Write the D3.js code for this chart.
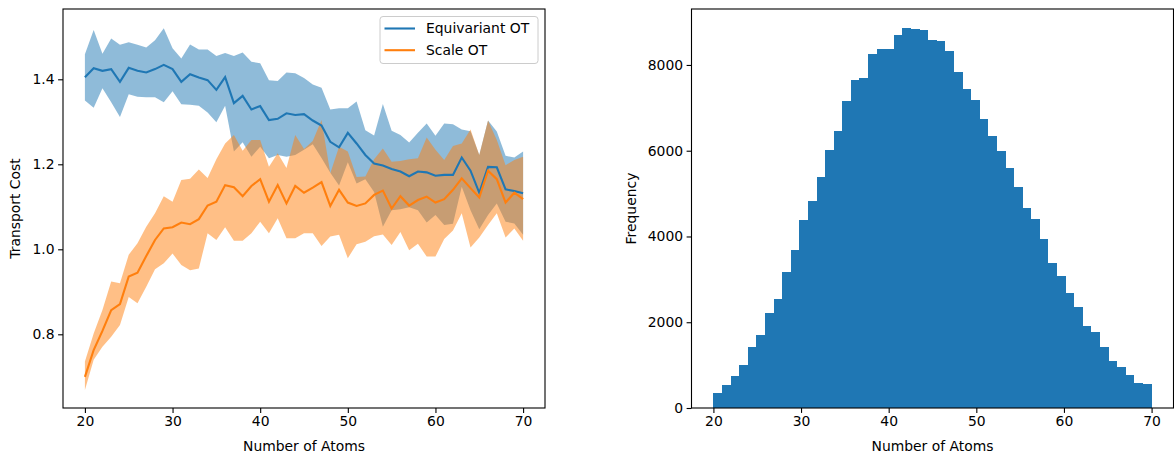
<!DOCTYPE html>
<html>
<head>
<meta charset="utf-8">
<script src="https://cdn.jsdelivr.net/npm/d3@7"></script>
<style>
  body { margin: 0; background: #fff; }
  svg text { font-family: "DejaVu Sans", sans-serif; fill: #000; }
</style>
</head>
<body>
<div id="chart"></div>
<script>
// nombre d'atomes (20 à 70)
const atoms = d3.range(20, 71);

// coût de transport, Equivariant OT
const equivMean = [1.405,1.426,1.420,1.424,1.394,1.427,1.420,1.416,1.424,1.434,1.424,1.394,1.412,1.404,1.398,1.375,1.405,1.344,1.361,1.329,1.337,1.304,1.307,1.320,1.316,1.318,1.303,1.291,1.253,1.240,1.274,1.249,1.222,1.202,1.197,1.189,1.183,1.172,1.183,1.181,1.173,1.175,1.175,1.216,1.185,1.133,1.194,1.193,1.141,1.137,1.132];
const equivUpper = [1.459,1.516,1.460,1.496,1.481,1.487,1.481,1.475,1.492,1.520,1.473,1.449,1.482,1.470,1.470,1.455,1.462,1.455,1.463,1.441,1.438,1.398,1.396,1.416,1.414,1.403,1.388,1.380,1.329,1.332,1.332,1.348,1.280,1.268,1.342,1.279,1.269,1.251,1.274,1.296,1.267,1.296,1.294,1.282,1.278,1.222,1.303,1.277,1.220,1.216,1.230];
const equivLower = [1.350,1.333,1.379,1.346,1.311,1.365,1.359,1.358,1.358,1.346,1.372,1.341,1.340,1.338,1.322,1.299,1.338,1.230,1.252,1.218,1.241,1.214,1.222,1.218,1.222,1.234,1.247,1.215,1.180,1.150,1.205,1.155,1.165,1.135,1.053,1.092,1.094,1.099,1.092,1.063,1.081,1.057,1.060,1.147,1.092,1.047,1.081,1.108,1.065,1.061,1.034];

// coût de transport, Scale OT
const scaleMean = [0.700,0.763,0.808,0.857,0.871,0.936,0.945,0.984,1.022,1.049,1.052,1.063,1.059,1.071,1.103,1.112,1.151,1.146,1.125,1.149,1.165,1.112,1.151,1.108,1.149,1.133,1.145,1.158,1.102,1.140,1.110,1.102,1.108,1.128,1.138,1.096,1.125,1.103,1.116,1.124,1.110,1.118,1.140,1.167,1.144,1.122,1.185,1.165,1.110,1.133,1.118];
const scaleUpper = [0.736,0.802,0.857,0.924,0.920,0.987,1.014,1.053,1.085,1.125,1.112,1.163,1.166,1.188,1.168,1.212,1.249,1.269,1.232,1.257,1.257,1.194,1.226,1.191,1.269,1.236,1.255,1.304,1.179,1.241,1.230,1.170,1.171,1.212,1.237,1.206,1.208,1.212,1.214,1.263,1.234,1.210,1.243,1.249,1.282,1.222,1.303,1.257,1.198,1.210,1.218];
const scaleLower = [0.669,0.740,0.771,0.794,0.822,0.888,0.873,0.912,0.953,0.967,0.990,0.963,0.951,0.955,1.038,1.022,1.052,1.020,1.020,1.038,1.065,1.038,1.073,1.026,1.026,1.038,1.038,1.008,1.030,1.034,0.979,1.012,1.018,1.031,1.035,1.010,1.041,0.998,1.013,0.983,0.983,1.024,1.044,1.085,1.004,1.028,1.057,1.085,1.028,1.049,1.020];

// histogramme : une case par nombre d'atomes
const counts = [350,543,753,993,1421,1708,2204,2547,3160,3688,4387,4823,5389,6018,6468,7167,7656,7703,8255,8379,8379,8691,8854,8838,8814,8581,8565,8325,7843,7433,7183,6741,6345,5995,5592,5163,4660,4411,3952,3379,3083,2680,2367,1901,1771,1428,1102,946,776,583,559];

const xTicks = [20, 30, 40, 50, 60, 70];
const costTicks = [0.8, 1.0, 1.2, 1.4];
const freqTicks = [0, 2000, 4000, 6000, 8000];

const legendItems = ["Equivariant OT", "Scale OT"];

const bleu = "#1f77b4", orange = "#ff7f0e";
const W = 1174, H = 453;
const fs = 13.9;

const svg = d3.select("#chart").append("svg")
    .attr("width", W).attr("height", H);

// dessine les axes façon matplotlib
function dessinerAxes(g, x, y, yTicks, yFmt, xLabel, yLabel, yLabelX) {
    const [x0, x1] = x.range();
    const [y1, y0] = y.range();

    const ax = g.append("g").attr("transform", "translate(0," + y1 + ")")
        .call(d3.axisBottom(x).tickValues(xTicks).tickSize(4.9).tickPadding(3.5).tickFormat(d3.format("d")));
    const ay = g.append("g").attr("transform", "translate(" + x0 + ",0)")
        .call(d3.axisLeft(y).tickValues(yTicks).tickSize(4.9).tickPadding(3.5).tickFormat(yFmt));
    [ax, ay].forEach(a => {
        a.select(".domain").remove();
        a.selectAll("line").attr("stroke", "#000").attr("stroke-width", 1.1);
        a.selectAll("text").attr("font-size", fs).attr("font-family", "DejaVu Sans");
    });

    g.append("rect")
        .attr("x", x0).attr("y", y0).attr("width", x1 - x0).attr("height", y1 - y0)
        .attr("fill", "none").attr("stroke", "#000").attr("stroke-width", 1.1);

    g.append("text")
        .attr("x", (x0 + x1) / 2).attr("y", 451)
        .attr("text-anchor", "middle").attr("font-size", fs)
        .text(xLabel);
    g.append("text")
        .attr("transform", "translate(" + yLabelX + "," + (y0 + y1) / 2 + ") rotate(-90)")
        .attr("text-anchor", "middle").attr("font-size", fs)
        .text(yLabel);
}

// ---- graphique de gauche : coût de transport ----
const gauche = svg.append("g");
const x1 = d3.scaleLinear().domain([17.5, 72.5]).range([63, 545]);
const y1 = d3.scaleLinear().domain([0.6266, 1.5654]).range([408, 9]);

const bande = (low, up) => d3.area()
    .x((d, i) => x1(atoms[i]))
    .y0((d, i) => y1(low[i]))
    .y1((d, i) => y1(up[i]));
const ligne = vals => d3.line()
    .x((d, i) => x1(atoms[i]))
    .y((d, i) => y1(vals[i]));

gauche.append("path").datum(atoms)
    .attr("d", bande(equivLower, equivUpper))
    .attr("fill", bleu).attr("fill-opacity", 0.5);
gauche.append("path").datum(atoms)
    .attr("d", bande(scaleLower, scaleUpper))
    .attr("fill", orange).attr("fill-opacity", 0.5);
gauche.append("path").datum(atoms)
    .attr("d", ligne(equivMean))
    .attr("fill", "none").attr("stroke", bleu).attr("stroke-width", 2.1);
gauche.append("path").datum(atoms)
    .attr("d", ligne(scaleMean))
    .attr("fill", "none").attr("stroke", orange).attr("stroke-width", 2.1);

dessinerAxes(gauche, x1, y1, costTicks, d3.format(".1f"), "Number of Atoms", "Transport Cost", 20);

// légende
const leg = gauche.append("g").attr("transform", "translate(380,16.5)");
leg.append("rect")
    .attr("width", 158).attr("height", 47).attr("rx", 3)
    .attr("fill", "#fff").attr("fill-opacity", 0.8)
    .attr("stroke", "#cccccc").attr("stroke-width", 1);
legendItems.forEach((nom, i) => {
    const ly = 12 + i * 21.7;
    leg.append("line")
        .attr("x1", 4.5).attr("x2", 35).attr("y1", ly).attr("y2", ly)
        .attr("stroke", i == 0 ? bleu : orange).attr("stroke-width", 2.1);
    leg.append("text")
        .attr("x", 46).attr("y", ly).attr("dy", "0.35em")
        .attr("font-size", fs).text(nom);
});

// ---- graphique de droite : histogramme ----
const droite = svg.append("g");
const x2 = d3.scaleLinear().domain([17.5, 72.5]).range([691.5, 1173.5]);
const y2 = d3.scaleLinear().domain([0, 9305]).range([408, 9]);
const largeur = 50 / counts.length;

droite.selectAll("rect.barre").data(counts).join("rect")
    .attr("class", "barre")
    .attr("x", (d, i) => x2(20 + i * largeur))
    .attr("width", x2(20 + largeur) - x2(20))
    .attr("y", d => y2(d))
    .attr("height", d => y2(0) - y2(d))
    .attr("fill", bleu)
    .attr("shape-rendering", "crispEdges");

dessinerAxes(droite, x2, y2, freqTicks, d3.format("d"), "Number of Atoms", "Frequency", 636);
</script>
</body>
</html>
